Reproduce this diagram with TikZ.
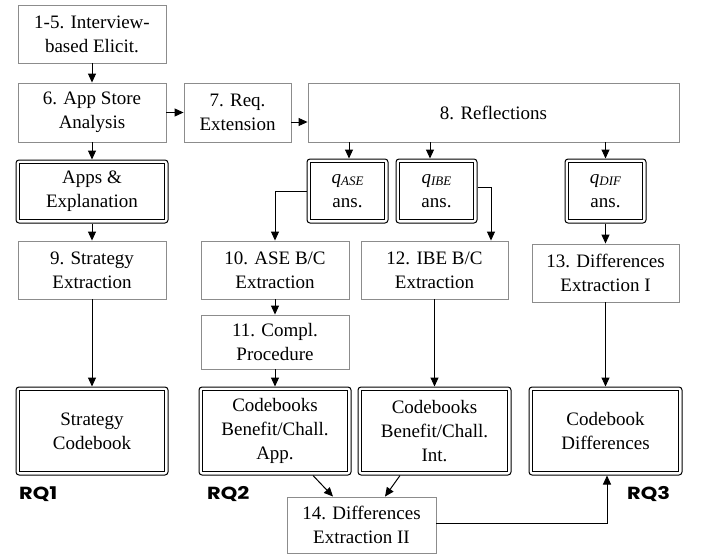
\documentclass[tikz,border=0pt]{standalone}
\usepackage{fontspec}
\setmainfont{Liberation Serif}
\newfontfamily\rqfont[FakeStretch=1.2]{Poppins}
\usetikzlibrary{arrows.meta}
\begin{document}
\begin{tikzpicture}[x=1pt,y=-1pt,
  every node/.style={font=\fontsize{19}{24}\selectfont, align=center, inner sep=0pt},
  pbox/.style 2 args={draw=black!45, line width=0.9pt, minimum width=#1pt, minimum height=#2pt},
  dbox/.style 2 args={draw=black, line width=1pt, rounded corners=3pt, minimum width=#1pt, minimum height=#2pt},
  inner/.style={draw=black, line width=1.5pt},
  arr/.style={-{Triangle[length=9pt,width=8pt]}, line width=1pt},
  rq/.style={anchor=west, font=\rqfont\bfseries\fontsize{17.5}{18}\selectfont}]
\useasboundingbox (0,0) rectangle (702,554);
\newcommand{\qsub}[2]{\textit{#1\raisebox{-0.3ex}{\fontsize{13}{13}\selectfont #2}}}
% plain boxes
\node[pbox={148}{58}] (b15) at (92,34) {1-5. Interview-\\based Elicit.};
\node[pbox={148}{59}] (b6) at (92,112.5) {6. App Store\\Analysis};
\node[pbox={107}{59}] (b7) at (237.5,112.5) {7. Req.\\Extension};
\node[pbox={371}{59}] (b8) at (493.5,112.5) {8. Reflections};
\node[pbox={148}{58}] (b9) at (92,270) {9. Strategy\\Extraction};
\node[pbox={148}{58}] (b10) at (275,270) {10. ASE B/C\\Extraction};
\node[pbox={148}{54}] (b11) at (275,342) {11. Compl.\\Procedure};
\node[pbox={147}{58}] (b12) at (434.5,270) {12. IBE B/C\\Extraction};
\node[pbox={147}{58}] (b13) at (605.5,273) {13. Differences\\Extraction I};
\node[pbox={149}{56}] (b14) at (361.5,525) {14. Differences\\Extraction II};
% double boxes
\node[dbox={152}{63}] (apps) at (92,191.5) {Apps \&\\Explanation};
\node[dbox={81}{64}] (qase) at (347.5,191) {\qsub{q}{ASE}\\ans.};
\node[dbox={81}{64}] (qibe) at (436.5,191) {\qsub{q}{IBE}\\ans.};
\node[dbox={81}{64}] (qdif) at (605.5,191) {\qsub{q}{DIF}\\ans.};
\node[dbox={152}{88}] (sc) at (92,431) {Strategy\\Codebook};
\node[dbox={152}{88}] (cba) at (275,431) {Codebooks\\Benefit/Chall.\\App.};
\node[dbox={153}{88}] (cbi) at (434.5,431) {Codebooks\\Benefit/Chall.\\Int.};
\node[dbox={153}{88}] (cd) at (605.5,431) {Codebook\\Differences};
\foreach \n in {apps,qase,qibe,qdif,sc,cba,cbi,cd}
  \draw[inner] ([shift={(4,4)}]\n.north west) rectangle ([shift={(-4,-4)}]\n.south east);
% labels
\node[rq] (rq1) at (19,494) {RQ1};
\node[rq] (rq2) at (207,494) {RQ2};
\node[rq] (rq3) at (627,494) {RQ3};
% connectors
\draw[arr] (b15) -- (b6);
\draw[arr] (b6) -- (b7);
\draw[arr] ([yshift=-9.5pt]b7.east) -- ([yshift=-9.5pt]b7.east -| b8.west);
\draw[arr] (b6) -- (apps);
\draw[arr] (b8.south -| 349,0) -- (qase.north -| 349,0);
\draw[arr] (b8.south -| 430,0) -- (qibe.north -| 430,0);
\draw[arr] (b8.south -| qdif) -- (qdif);
\draw[arr] (qase.west) -| (b10.north);
\draw[arr] ([yshift=4pt]qibe.east) -| (b12.north -| 491,0);
\draw[arr] (qdif) -- (b13);
\draw[arr] (apps) -- (b9);
\draw[arr] (b9) -- (sc);
\draw[arr] (b10) -- (b11);
\draw[arr] (b11) -- (cba);
\draw[arr] (b12) -- (cbi);
\draw[arr] (b13) -- (cd);
\draw[arr] (cba.south -| 313,0) -- (b14.north -| 333,0);
\draw[arr] (cbi.south -| 400,0) -- (b14.north -| 385,0);
\draw[arr] ([yshift=2pt]b14.east) -| (cd.south -| 607,0);
\end{tikzpicture}
\end{document}
